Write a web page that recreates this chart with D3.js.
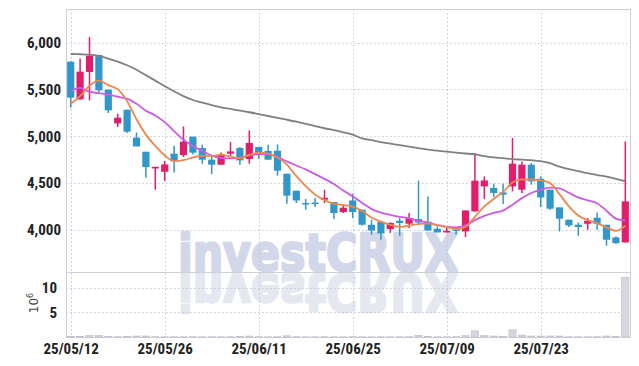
<!DOCTYPE html>
<html>
<head>
<meta charset="utf-8">
<script src="https://cdn.jsdelivr.net/npm/d3@7"></script>
<style>
  body { margin: 0; background: #fff; }
  .eje text { font-family: "Liberation Sans Narrow", "Roboto Condensed", "DejaVu Sans Condensed", sans-serif; font-weight: bold; font-size: 15px; fill: #222; }
</style>
</head>
<body>
<div id="chart"></div>
<script>
// Dimensiones
const width = 639;
const height = 366;

// Fechas (YY/MM/DD)
const fechas = ["25/05/12","25/05/13","25/05/14","25/05/15","25/05/16","25/05/19","25/05/20","25/05/21","25/05/22","25/05/23",
  "25/05/26","25/05/27","25/05/28","25/05/29","25/05/30","25/06/02","25/06/04","25/06/05","25/06/09","25/06/10",
  "25/06/11","25/06/12","25/06/13","25/06/16","25/06/17","25/06/18","25/06/19","25/06/20","25/06/23","25/06/24",
  "25/06/25","25/06/26","25/06/27","25/06/30","25/07/01","25/07/02","25/07/03","25/07/04","25/07/07","25/07/08",
  "25/07/09","25/07/10","25/07/11","25/07/14","25/07/15","25/07/16","25/07/17","25/07/18","25/07/21","25/07/22",
  "25/07/23","25/07/24","25/07/25","25/07/28","25/07/29","25/07/30","25/07/31","25/08/01","25/08/04","25/08/05"];

const apertura = [5797,5394,5687,5868,5497,5137,5283,4984,4834,4655,4620,4813,4799,4995,4874,4749,4695,4813,4874,4756,
  4885,4842,4845,4599,4417,4285,4290,4321,4296,4189,4313,4214,4053,4082,4007,4096,4064,4114,4086,4011,
  3971,4004,3982,4196,4463,4446,4399,4463,4428,4695,4545,4428,4239,4107,4053,4064,4128,4053,3918,3864];
const maximo = [5800,5832,6061,5870,5500,5240,5283,5040,4834,4673,4735,4898,5105,4995,4909,4784,4827,4938,4885,5062,
  4885,4909,4912,4599,4417,4328,4339,4428,4296,4270,4385,4214,4107,4082,4080,4125,4179,4524,4356,4036,
  4018,4018,4206,4820,4570,4492,4492,4981,4730,4713,4570,4428,4239,4107,4078,4125,4185,4053,3928,4944];
const minimo = [5305,5390,5383,5455,5248,5098,5034,4891,4556,4428,4521,4613,4778,4805,4706,4596,4695,4784,4695,4706,
  4756,4749,4578,4278,4286,4214,4243,4286,4114,4179,4125,4045,3947,3893,3965,3936,4018,4053,3992,3971,
  3971,3947,3922,4196,4328,4350,4275,4410,4393,4481,4243,4214,3982,4029,3936,4000,4000,3829,3847,3864];
const cierre = [5412,5690,5861,5490,5276,5198,5048,4891,4670,4673,4698,4735,4941,4824,4749,4695,4802,4837,4741,4927,
  4810,4749,4631,4364,4313,4280,4286,4342,4179,4235,4189,4053,3992,3960,4072,4072,4125,4078,3992,3971,
  3989,3997,4206,4524,4527,4393,4374,4706,4695,4517,4345,4225,4118,4046,4029,4096,4064,3893,3857,4303];

// Volumen (millones)
const volumen = [0.08,0.1,0.35,0.3,0.08,0.06,0.08,0.2,0.2,0.06,0.05,0.06,0.05,0.06,0.05,0.06,0.05,0.06,0.08,0.2,
  0.06,0.05,0.06,0.25,0.06,0.05,0.04,0.06,0.05,0.05,0.06,0.05,0.05,0.06,0.05,0.05,0.06,0.35,0.08,0.05,
  0.05,0.06,0.3,1.25,0.3,0.2,0.08,1.45,0.4,0.2,0.2,0.2,0.2,0.06,0.05,0.05,0.06,0.2,0.08,12.2];

// Medias móviles
const media5 = [5348,5428,5540,5594,5546,5503,5375,5181,5017,4896,4796,4733,4743,4774,4789,4789,4802,4781,4765,4800,
  4823,4813,4772,4696,4573,4467,4375,4317,4280,4264,4246,4200,4130,4086,4053,4030,4044,4061,4068,4048,
  4031,4005,4031,4137,4249,4329,4405,4505,4539,4537,4527,4498,4380,4250,4153,4103,4071,4026,3988,4043];
const media10 = [5481,5516,5476,5460,5444,5422,5401,5348,5273,5221,5150,5054,4962,4895,4843,4792,4768,4762,4770,4795,
  4806,4808,4777,4731,4687,4645,4594,4544,4488,4419,4357,4287,4223,4183,4159,4138,4122,4096,4077,4050,
  4030,4025,4046,4103,4148,4180,4205,4268,4338,4393,4428,4451,4442,4395,4345,4315,4284,4203,4119,4098];
const media60 = [5879,5876,5872,5858,5829,5797,5759,5711,5652,5594,5535,5481,5428,5387,5358,5332,5308,5291,5273,5256,
  5237,5216,5196,5176,5155,5132,5108,5085,5064,5041,5016,4977,4957,4936,4920,4904,4888,4872,4856,4845,
  4834,4824,4815,4805,4786,4773,4765,4755,4749,4743,4733,4711,4674,4647,4626,4604,4585,4567,4545,4519];

const ticksPrecio = [4000, 4500, 5000, 5500, 6000];
const ticksVolumen = [5, 10];
const ticksFecha = [0, 10, 20, 30, 40, 50];

// Colores
const colorSube = "#e21d6c";
const colorBaja = "#3197cb";

// Zona del gráfico
const izq = 66, der = 630, arriba = 9, corte = 272, abajo = 337;

const svg = d3.select("#chart")
    .append("svg")
    .attr("width", width)
    .attr("height", height);

// Escalas
const x = d3.scaleLinear()
    .domain([-0.5, fechas.length - 0.5])
    .range([izq, der]);

const yPrecio = d3.scaleLinear()
    .domain([3548, 6360])
    .range([corte, arriba]);

const yVol = d3.scaleLinear()
    .domain([0, 13.26])
    .range([abajo, corte]);

// Marca de agua y su reflejo (con trazo para engrosar las letras)
function pintarMarca(y, color, espejo) {
    svg.append("text")
        .attr("x", 178).attr("y", y)
        .attr("transform", espejo ? "scale(1,-1)" : null)
        .attr("textLength", 280).attr("lengthAdjust", "spacingAndGlyphs")
        .attr("font-family", "'DejaVu Sans', sans-serif")
        .attr("font-weight", "bold")
        .attr("font-size", 52)
        .attr("fill", color)
        .attr("stroke", color)
        .attr("stroke-width", 2.5)
        .attr("stroke-linejoin", "round")
        .text("investCRUX");
}
pintarMarca(corte - 1, "#d2d8ea", false);
pintarMarca(-corte - 2, "#e6e8f0", true);

// Rejilla
const rejilla = svg.append("g")
    .attr("stroke", "#c4c4da")
    .attr("stroke-width", 1)
    .attr("stroke-dasharray", "1.5,2.5");

rejilla.selectAll(".h")
    .data(ticksPrecio)
    .enter()
    .append("line")
    .attr("x1", izq).attr("x2", der)
    .attr("y1", d => Math.round(yPrecio(d)) + 0.5)
    .attr("y2", d => Math.round(yPrecio(d)) + 0.5);

rejilla.selectAll(".hv")
    .data(ticksVolumen)
    .enter()
    .append("line")
    .attr("x1", izq).attr("x2", der)
    .attr("y1", d => Math.round(yVol(d)) + 0.5)
    .attr("y2", d => Math.round(yVol(d)) + 0.5);

rejilla.selectAll(".v")
    .data(ticksFecha)
    .enter()
    .append("line")
    .attr("x1", d => Math.round(x(d)) + 0.5)
    .attr("x2", d => Math.round(x(d)) + 0.5)
    .attr("y1", arriba).attr("y2", abajo);

// Marco
svg.append("rect")
    .attr("x", izq + 0.5).attr("y", arriba + 0.5)
    .attr("width", der - izq).attr("height", abajo - arriba)
    .attr("fill", "none")
    .attr("stroke", "#cfcfd8");
svg.append("line")
    .attr("x1", izq).attr("x2", der)
    .attr("y1", corte + 0.5).attr("y2", corte + 0.5)
    .attr("stroke", "#cfcfd8");

// Barras de volumen
svg.append("g")
    .selectAll("rect")
    .data(volumen)
    .enter()
    .append("rect")
    .attr("x", (d, i) => x(i) - 3.6)
    .attr("width", 7.2)
    .attr("y", d => yVol(d))
    .attr("height", d => abajo - yVol(d))
    .attr("fill", "#d6d6de")
    .attr("stroke", "#bdbdc8")
    .attr("stroke-width", 0.6);

// Velas
const velas = svg.append("g")
    .selectAll("g")
    .data(fechas)
    .enter()
    .append("g")
    .attr("fill", (d, i) => cierre[i] >= apertura[i] ? colorSube : colorBaja)
    .attr("stroke", (d, i) => cierre[i] >= apertura[i] ? colorSube : colorBaja);

velas.append("line")
    .attr("x1", (d, i) => x(i)).attr("x2", (d, i) => x(i))
    .attr("y1", (d, i) => yPrecio(maximo[i]))
    .attr("y2", (d, i) => yPrecio(minimo[i]))
    .attr("stroke-width", 1.5);

velas.append("rect")
    .attr("x", (d, i) => x(i) - 3.6)
    .attr("width", 7.2)
    .attr("y", (d, i) => yPrecio(Math.max(apertura[i], cierre[i])))
    .attr("height", (d, i) => Math.max(1.5, Math.abs(yPrecio(apertura[i]) - yPrecio(cierre[i]))))
    .attr("stroke", "none");

// Medias móviles
const linea = d3.line()
    .x((d, i) => x(i))
    .y(d => yPrecio(d))
    .curve(d3.curveMonotoneX);

[[media60, "#808080"], [media10, "#cc5ae8"], [media5, "#ef874d"]].forEach(function(m) {
    svg.append("path")
        .datum(m[0])
        .attr("d", linea)
        .attr("fill", "none")
        .attr("stroke", m[1])
        .attr("stroke-width", 1.8);
});

// Ejes
svg.append("g")
    .attr("class", "eje")
    .attr("transform", `translate(${izq - 1},0)`)
    .call(d3.axisLeft(yPrecio).tickValues(ticksPrecio).tickSize(0).tickPadding(4).tickFormat(d3.format(",")))
    .call(g => g.select(".domain").remove());

svg.append("g")
    .attr("class", "eje")
    .attr("transform", `translate(${izq - 1},0)`)
    .call(d3.axisLeft(yVol).tickValues(ticksVolumen).tickSize(0).tickPadding(8))
    .call(g => g.select(".domain").remove());

svg.append("g")
    .attr("class", "eje")
    .attr("transform", `translate(0,${abajo})`)
    .call(d3.axisBottom(x).tickValues(ticksFecha).tickSize(0).tickPadding(6).tickFormat(i => fechas[i]))
    .call(g => g.select(".domain").remove());

// Unidad del volumen
const unidad = svg.append("text")
    .attr("transform", "translate(38,303) rotate(-90)")
    .attr("text-anchor", "middle")
    .style("font-family", "'DejaVu Sans', sans-serif")
    .style("font-size", "12px")
    .style("fill", "#444");
unidad.append("tspan").text("10");
unidad.append("tspan").attr("dy", -5).style("font-size", "8px").text("6");
</script>
</body>
</html>
